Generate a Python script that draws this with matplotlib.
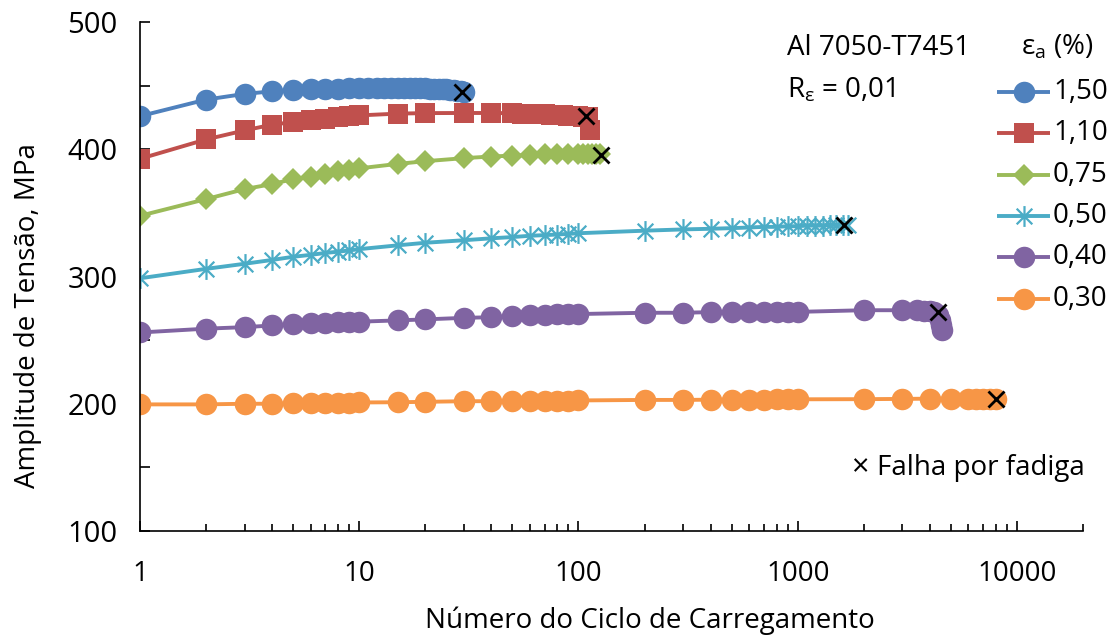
import matplotlib
matplotlib.use("Agg")
import matplotlib.pyplot as plt
from matplotlib.path import Path
from matplotlib.lines import Line2D
import numpy as np

plt.rcParams['font.family'] = ['Open Sans', 'DejaVu Sans']
plt.rcParams['mathtext.fontset'] = 'custom'
plt.rcParams['mathtext.rm'] = 'Open Sans'
plt.rcParams['mathtext.it'] = 'Open Sans:italic'
plt.rcParams['mathtext.fallback'] = 'stixsans'

# ---------------- data ----------------
labels = ['1,50', '1,10', '0,75', '0,50', '0,40', '0,30']
colors = ['#4F81BD', '#C0504D', '#9BBB59', '#4BACC6', '#8064A2', '#F79646']

n_150 = [1, 2, 3, 4, 5, 6, 7, 8, 9, 10, 11, 12, 13, 14, 15, 16, 17, 18, 19, 20,
         21, 22, 23, 24, 25, 26, 27, 28, 29, 30]
s_150 = [426, 439, 443.5, 445.5, 446.5, 447, 447.5, 447.5, 448, 448, 448, 448, 448, 448, 448,
         448, 448, 448, 448, 448, 447.5, 447.5, 447.5, 447, 447, 446.5, 446.5, 446, 445.5, 445]

n_110 = [1, 2, 3, 4, 5, 6, 7, 8, 9, 10, 15, 20, 30, 40, 50, 55, 60, 65, 70, 75, 80, 85, 90,
         95, 100, 105, 110, 113]
s_110 = [392.5, 407.7, 414.8, 419.3, 421.4, 422.7, 424, 425, 426, 426.6, 428, 428.4, 428.5,
         428.5, 428.3, 428, 428, 427.8, 427.5, 427.3, 427, 426.8, 426.5, 426, 425.8, 425.5, 425, 415]

n_075 = [1, 2, 3, 4, 5, 6, 7, 8, 9, 10, 15, 20, 30, 40, 50, 60, 70, 80, 90, 100, 105, 110,
         115, 120, 125]
s_075 = [347.7, 360.8, 368.7, 372.6, 376.6, 378.5, 380.6, 382.7, 383.7, 385, 388.5, 390.6, 393,
         394.3, 395, 395.5, 396, 396, 396, 396, 396, 396, 396, 396, 396]

n_050 = [1, 2, 3, 4, 5, 6, 7, 8, 9, 10, 15, 20, 30, 40, 50, 60, 70, 80, 90, 100, 200, 300,
         400, 500, 600, 700, 800, 900, 1000, 1100, 1200, 1300, 1400, 1500, 1600, 1700]
s_050 = [298.6, 306, 310, 313, 315.5, 317, 318.5, 319.5, 320.5, 321.5, 324.5, 326.5, 328.5,
         330, 331, 332, 332.5, 333, 333.5, 334, 336, 337, 337.5, 338, 338.5, 339, 339, 339.5,
         339.5, 340, 340, 340, 340.5, 340.5, 340.5, 340.5]

n_040 = [1, 2, 3, 4, 5, 6, 7, 8, 9, 10, 15, 20, 30, 40, 50, 60, 70, 80, 90, 100, 200, 300,
         400, 500, 600, 700, 800, 900, 1000, 2000, 3000, 3500, 3750, 4000, 4200, 4350, 4450,
         4500, 4550]
s_040 = [256, 259, 260.2, 261.5, 262.5, 263.2, 263.6, 264, 264.2, 264.5, 265.5, 266.3, 267.5,
         268, 269, 269.5, 270, 270.2, 270.5, 270.5, 271.5, 271.5, 272, 272, 272, 272, 272, 272,
         272.2, 273.5, 273.5, 273.5, 273, 272.5, 272, 270, 266, 262, 258]

n_030 = [1, 2, 3, 4, 5, 6, 7, 8, 9, 10, 15, 20, 30, 40, 50, 60, 70, 80, 90, 100, 200, 300,
         400, 500, 600, 700, 800, 900, 1000, 2000, 3000, 4000, 5000, 6000, 6500, 7000, 7500, 8000]
s_030 = [199.5, 199.5, 200, 200, 200.3, 200.5, 200.5, 200.7, 200.8, 201, 201.2, 201.5, 202, 202,
         202.2, 202.3, 202.4, 202.5, 202.5, 202.6, 203, 203, 203.2, 203.2, 203.3, 203.3, 203.4,
         203.4, 203.5, 203.6, 203.8, 204, 204, 204, 204, 204, 204, 204]

fail_n = [29.5, 108, 127, 1630, 4350, 8000]
fail_s = [445.3, 426, 395.5, 340.5, 272, 204]

series_n = [n_150, n_110, n_075, n_050, n_040, n_030]
series_s = [s_150, s_110, s_075, s_050, s_040, s_030]

x_ticks = [1, 10, 100, 1000, 10000]
y_ticks = [100, 200, 300, 400, 500]

# ---------------- markers ----------------
star = Path([(0, -1), (0, 1), (-0.75, -0.75), (0.75, 0.75), (-0.75, 0.75), (0.75, -0.75)],
            [Path.MOVETO, Path.LINETO, Path.MOVETO, Path.LINETO, Path.MOVETO, Path.LINETO])
markers = ['o', 's', 'D', star, 'o', 'o']
msizes = [15.5, 14.5, 10.8, 15, 15.5, 15.5]

FS = 20
W, H = 1118, 641
fig = plt.figure(figsize=(W / 100, H / 100), dpi=100)
ax = fig.add_axes([140 / W, 1 - 531 / H, (1083 - 140) / W, (531 - 22) / H])


def style(c, m):
    if m is star:
        return dict(markerfacecolor='none', markeredgecolor=c, markeredgewidth=1.6)
    return dict(markerfacecolor=c, markeredgecolor=c, markeredgewidth=0)


for n, s, c, m, ms, lab in zip(series_n, series_s, colors, markers, msizes, labels):
    ax.plot(n, s, color=c, lw=2.8, marker=m, markersize=ms, label=lab,
            solid_capstyle='round', solid_joinstyle='round', **style(c, m))

ax.plot(fail_n, fail_s, linestyle='none', marker='x', color='black', markersize=11,
        markeredgewidth=2.0, zorder=10)

ax.set_xscale('log')
ax.set_xlim(1, 20000)
ax.set_ylim(100, 500)
ax.set_xticks(x_ticks)
ax.set_xticklabels([str(t) for t in x_ticks])
ax.set_yticks(y_ticks)
ax.set_yticks([150, 250, 350, 450], minor=True)
ax.xaxis.set_minor_locator(matplotlib.ticker.LogLocator(base=10, subs=np.arange(2, 10)))
ax.xaxis.set_minor_formatter(matplotlib.ticker.NullFormatter())

for sp in ['top', 'right']:
    ax.spines[sp].set_visible(False)
for sp in ['left', 'bottom']:
    ax.spines[sp].set_linewidth(1.2)
    ax.spines[sp].set_color('black')

ax.tick_params(axis='both', which='both', direction='in', color='black', width=1.2)
ax.tick_params(axis='y', which='both', length=7, pad=16, labelsize=FS + 1)
ax.tick_params(axis='x', which='major', length=7, pad=21, labelsize=FS)
ax.tick_params(axis='x', which='minor', length=5)

ax.set_xlabel('Número do Ciclo de Carregamento', fontsize=FS, va='center')
ax.xaxis.set_label_coords((650 - 140) / 943, (531 - 621) / 509)
ax.set_ylabel('Amplitude de Tensão, MPa', fontsize=FS, va='center')
ax.yaxis.set_label_coords((28 - 140) / 943, (531 - 316) / 509)

# annotations
fig.text(787 / W, 1 - 48 / H, 'Al 7050-T7451', fontsize=FS, ha='left', va='center')
fig.text(787 / W, 1 - 90 / H, r'R$_{\mathrm{ε}}$ = 0,01', fontsize=FS, ha='left', va='center')
fig.text(860 / W, 1 - 468 / H, '×', fontsize=FS + 2, ha='center', va='center')
fig.text(877 / W, 1 - 468 / H, 'Falha por fadiga', fontsize=FS, ha='left', va='center')

# legend (drawn entry by entry)
fig.text(1057 / W, 1 - 47 / H, r'ε$_{\mathrm{a}}$ (%)', fontsize=FS, ha='center', va='center')
for i, (c, m, ms, lab) in enumerate(zip(colors, markers, msizes, labels)):
    yy = 1 - (92 + 41.3 * i) / H
    fig.add_artist(Line2D([997 / W, 1050 / W], [yy, yy], transform=fig.transFigure,
                          color=c, lw=2.8, solid_capstyle='butt'))
    fig.add_artist(Line2D([1023.5 / W], [yy], transform=fig.transFigure, color=c,
                          marker=m, markersize=ms, linestyle='none', **style(c, m)))
    fig.text(1053 / W, yy, lab, fontsize=FS, ha='left', va='center')

fig.savefig('out.png', dpi=100)
